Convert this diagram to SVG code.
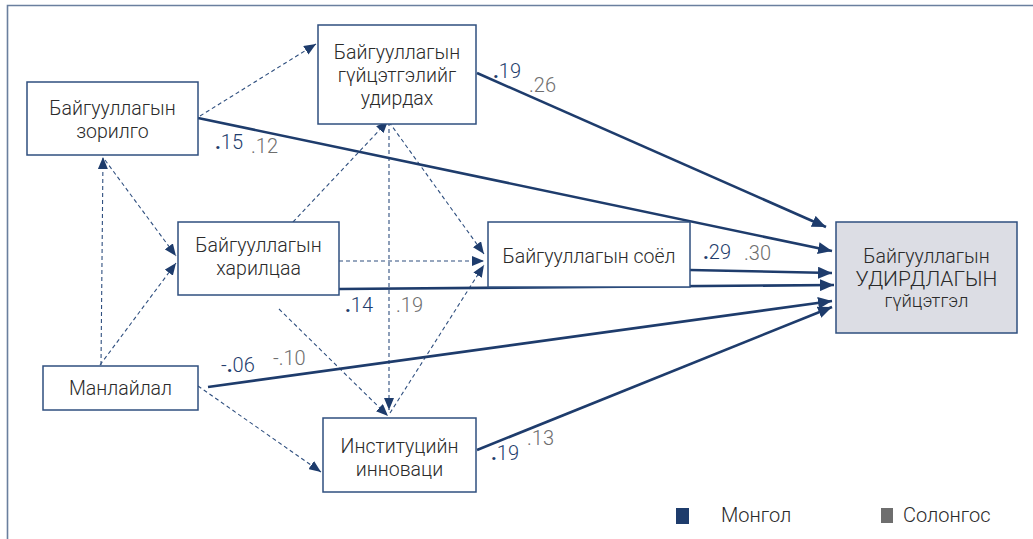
<svg xmlns="http://www.w3.org/2000/svg" width="1033" height="539" viewBox="0 0 1033 539">
<style>
.box{fill:#fff;stroke:#2f4f7f;stroke-width:1.5}
.res{fill:#dcdde4;stroke:#2f4f7f;stroke-width:1.5}
.t{font-family:Roboto,"Liberation Sans",sans-serif;font-weight:300;font-size:19.5px;fill:#2a2a2a;text-anchor:middle}
.dash{fill:none;stroke:#2f4f7f;stroke-width:1.1;stroke-dasharray:4 3}
.solid{fill:none;stroke:#1e3c6c;stroke-width:2.6}
.nb{font-family:Roboto,"Liberation Sans",sans-serif;font-weight:300;font-size:20px;fill:#1e3c6c}
.ng{font-family:Roboto,"Liberation Sans",sans-serif;font-weight:300;font-size:20px;fill:#6e6e6e}
.lg{font-family:Roboto,"Liberation Sans",sans-serif;font-weight:300;font-size:20px;fill:#2a2a2a}
.dot{font-weight:700}
</style>
<defs>
<marker id="as" markerUnits="userSpaceOnUse" markerWidth="14" markerHeight="12" refX="14" refY="6" orient="auto"><path d="M0,0 L14,6 L0,12 z" fill="#1e3c6c"/></marker>
<marker id="ad" markerUnits="userSpaceOnUse" markerWidth="12" markerHeight="10" refX="12" refY="5" orient="auto"><path d="M0,0 L12,5 L0,10 z" fill="#1e3c6c"/></marker>
</defs>
<g id="frame" fill="none" stroke="#6a7f9e" stroke-width="1.6">
<path d="M7.5,539 V5.5 H1033"/>
</g>
<g id="connectors">
<path class="dash" d="M200,116 L316,44" marker-end="url(#ad)"/>
<path class="dash" d="M101,365 L103,157" marker-end="url(#ad)"/>
<path class="dash" d="M105,160 L176,256" marker-end="url(#ad)"/>
<path class="dash" d="M100,365 L176,263" marker-end="url(#ad)"/>
<path class="dash" d="M293,222 L388,121" marker-end="url(#ad)"/>
<path class="dash" d="M389,122 L484,254" marker-end="url(#ad)"/>
<path class="dash" d="M332,261 L484,261" marker-end="url(#ad)"/>
<path class="dash" d="M389,122 L389,410" marker-end="url(#ad)"/>
<path class="dash" d="M279,309 L388,416" marker-end="url(#ad)"/>
<path class="dash" d="M390,413 L484,265" marker-end="url(#ad)"/>
<path class="dash" d="M198,386 L321,472" marker-end="url(#ad)"/>
<path class="solid" d="M477,73 L826,227" marker-end="url(#as)"/>
<path class="solid" d="M198,118 L832,251" marker-end="url(#as)"/>
<path class="solid" d="M690,270 L832,273" marker-end="url(#as)"/>
<path class="solid" d="M339,289 L834,285" marker-end="url(#as)"/>
<path class="solid" d="M208,387 L832,301" marker-end="url(#as)"/>
<path class="solid" d="M477,450 L832,307" marker-end="url(#as)"/>
</g>
<g id="node-zorilgo">
<rect class="box" x="27" y="82" width="171" height="73"/>
<text class="t" x="112.5" y="115">Байгууллагын</text>
<text class="t" x="112.5" y="138">зорилго</text>
</g>
<g id="node-udirdah">
<rect class="box" x="318" y="25" width="158" height="99"/>
<text class="t" x="397" y="59">Байгууллагын</text>
<text class="t" x="397" y="82">гүйцэтгэлийг</text>
<text class="t" x="397" y="105">удирдах</text>
</g>
<g id="node-harilcaa">
<rect class="box" x="178" y="222" width="161" height="73"/>
<text class="t" x="258.5" y="252">Байгууллагын</text>
<text class="t" x="258.5" y="275">харилцаа</text>
</g>
<g id="node-soel">
<rect class="box" x="488" y="222" width="202" height="65"/>
<text class="t" x="589" y="263">Байгууллагын соёл</text>
</g>
<g id="node-result">
<rect class="res" x="836" y="222" width="181" height="111"/>
<text class="t" x="926.5" y="263">Байгууллагын</text>
<text class="t" x="926.5" y="286" style="font-size:21px">УДИРДЛАГЫН</text>
<text class="t" x="926.5" y="307" style="font-size:18.5px">гүйцэтгэл</text>
</g>
<g id="node-manlailal">
<rect class="box" x="43" y="366" width="155" height="44"/>
<text class="t" x="120.5" y="395">Манлайлал</text>
</g>
<g id="node-innovaci">
<rect class="box" x="323" y="418" width="153" height="74"/>
<text class="t" x="399.5" y="453">Институцийн</text>
<text class="t" x="399.5" y="476">инноваци</text>
</g>
<g id="labels">
<text class="nb" x="493" y="78"><tspan class="dot">.</tspan>19</text>
<text class="ng" x="529" y="92">.26</text>
<text class="nb" x="215" y="149"><tspan class="dot">.</tspan>15</text>
<text class="ng" x="251" y="153">.12</text>
<text class="nb" x="703" y="259"><tspan class="dot">.</tspan>29</text>
<text class="ng" x="744" y="260">.30</text>
<text class="nb" x="345" y="312"><tspan class="dot">.</tspan>14</text>
<text class="ng" x="396" y="312">.19</text>
<text class="nb" x="221" y="372">-<tspan class="dot">.</tspan>06</text>
<text class="ng" x="273" y="365">-.10</text>
<text class="nb" x="491" y="460"><tspan class="dot">.</tspan>19</text>
<text class="ng" x="527" y="445">.13</text>
</g>
<g id="legend">
<rect x="676" y="508" width="13" height="16" fill="#1e3c6c"/>
<text class="lg" x="721" y="522">Монгол</text>
<rect x="881" y="508" width="12" height="15" fill="#6e6e6e"/>
<text class="lg" x="903" y="522">Солонгос</text>
</g>
</svg>
